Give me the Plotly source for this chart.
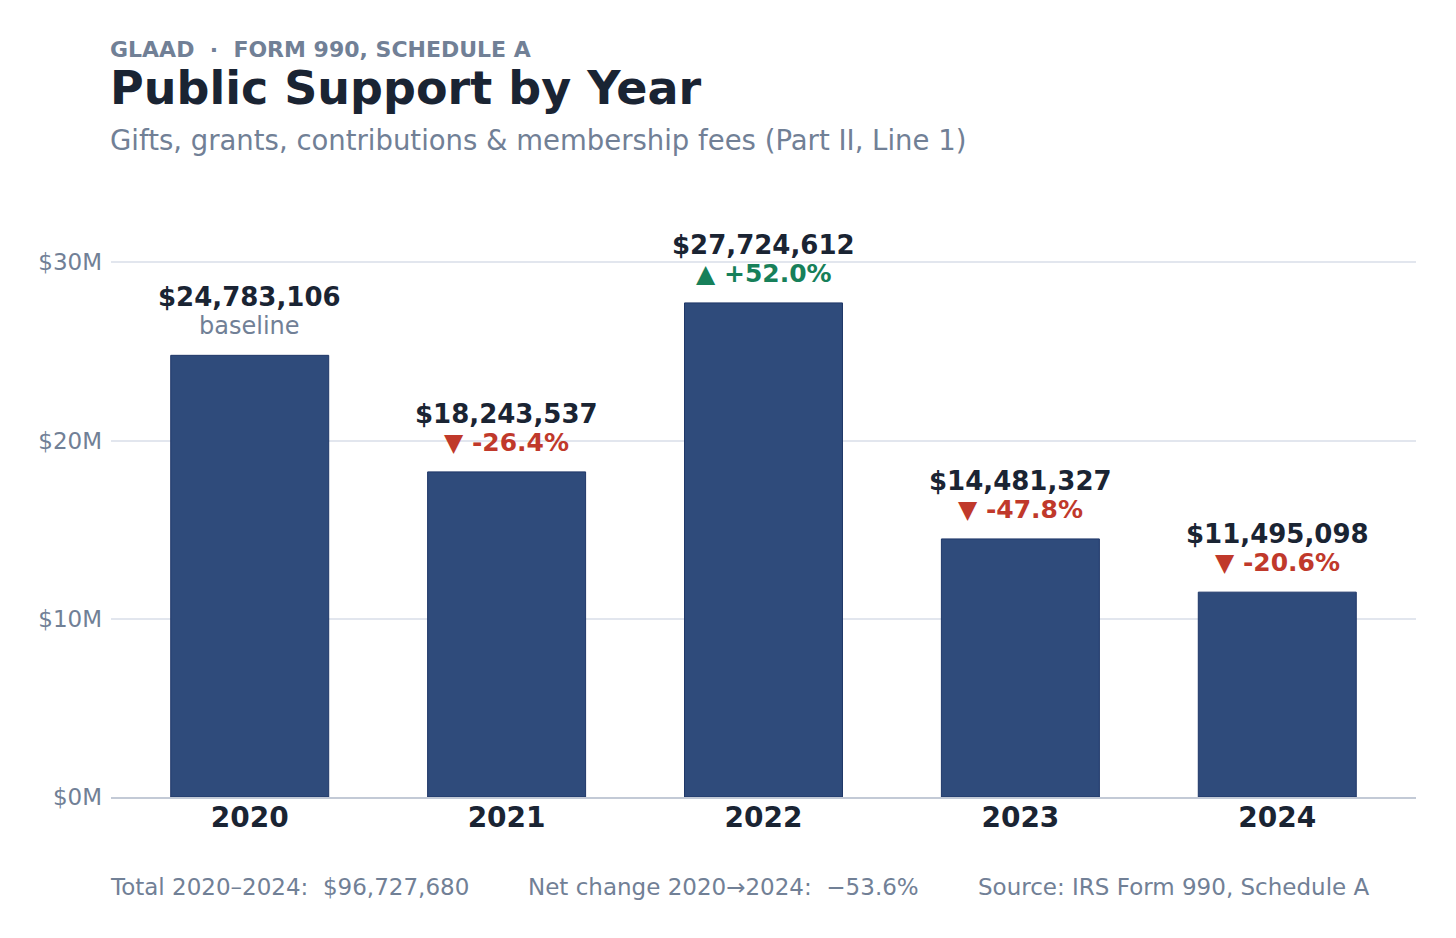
import plotly.graph_objects as go

# Schedule A, Part II, Line 1 values
years = ["2020", "2021", "2022", "2023", "2024"]
support = [24783106, 18243537, 27724612, 14481327, 11495098]
tick_vals = [0, 10e6, 20e6, 30e6]
tick_text = ["$0M", "$10M", "$20M", "$30M"]

FONT = "DejaVu Sans"
DARK = "#1a2433"
GREY = "#718096"
RED = "#c0392b"
GREEN = "#17805a"

fig = go.Figure(
    go.Bar(
        x=years,
        y=support,
        width=0.615,
        marker=dict(color="#2f4b7b", line=dict(color="#1f3768", width=1)),
        hoverinfo="skip",
    )
)

annotations = []
for i, val in enumerate(support):
    # category axis: position by index (numeric-looking names get read as indices)
    annotations.append(dict(
        x=i, y=val, xref="x", yref="y", yanchor="bottom", yshift=41,
        text=f"<b>${val:,}</b>", showarrow=False,
        font=dict(family=FONT, size=26, color=DARK),
    ))
    if i == 0:
        sub, col, bold, size = "baseline", GREY, False, 24
    else:
        pct = (val / support[i - 1] - 1) * 100
        sub = f"{'▲' if pct > 0 else '▼'} {pct:+.1f}%".replace("+-", "-")
        col, bold, size = (GREEN if pct > 0 else RED), True, 25
    annotations.append(dict(
        x=i, y=val, xref="x", yref="y", yanchor="bottom", yshift=13,
        text=f"<b>{sub}</b>" if bold else sub, showarrow=False,
        font=dict(family=FONT, size=size, color=col),
    ))

# header
annotations += [
    dict(x=-0.002, y=1.2513, xref="paper", yref="paper", xanchor="left", yanchor="middle",
         text="<b>GLAAD  ·  FORM 990, SCHEDULE A</b>", showarrow=False,
         font=dict(family=FONT, size=22, color=GREY)),
    dict(x=-0.002, y=1.1876, xref="paper", yref="paper", xanchor="left", yanchor="middle",
         text="<b>Public Support by Year</b>", showarrow=False,
         font=dict(family=FONT, size=46, color=DARK)),
    dict(x=-0.002, y=1.1005, xref="paper", yref="paper", xanchor="left", yanchor="middle",
         text="Gifts, grants, contributions &amp; membership fees (Part II, Line 1)",
         showarrow=False, font=dict(family=FONT, size=27.5, color=GREY)),
]

# footer
total = sum(support)
net = (support[-1] / support[0] - 1) * 100
footer = [
    (-0.002, f"Total {years[0]}–{years[-1]}:  ${total:,}"),
    (0.3183, f"Net change {years[0]}→{years[-1]}:  −{abs(net):.1f}%"),
    (0.6631, "Source: IRS Form 990, Schedule A"),
]
for fx, txt in footer:
    annotations.append(dict(
        x=fx, y=-0.1508, xref="paper", yref="paper", xanchor="left", yanchor="middle",
        text=txt, showarrow=False, font=dict(family=FONT, size=23, color=GREY),
    ))

fig.update_layout(
    width=1456,
    height=938,
    margin=dict(l=103, r=48, t=192, b=149),
    paper_bgcolor="white",
    plot_bgcolor="white",
    showlegend=False,
    annotations=annotations,
    font=dict(family=FONT),
    xaxis=dict(
        type="category",
        range=[-0.54, 4.54],
        showgrid=False,
        showline=True,
        linecolor="#c3cad6",
        linewidth=1.5,
        ticks="",
        ticklabelstandoff=-5,
        tickfont=dict(family=FONT, size=28, color=DARK),
        tickprefix="<b>",
        ticksuffix="</b>",
    ),
    yaxis=dict(
        range=[0, 33.5e6],
        tickvals=tick_vals,
        ticktext=tick_text,
        showgrid=True,
        gridcolor="#e2e6ee",
        gridwidth=1.5,
        zeroline=False,
        showline=False,
        ticks="",
        ticklabelstandoff=8,
        tickfont=dict(family=FONT, size=23, color=GREY),
    ),
)

fig.write_html("out.html")
